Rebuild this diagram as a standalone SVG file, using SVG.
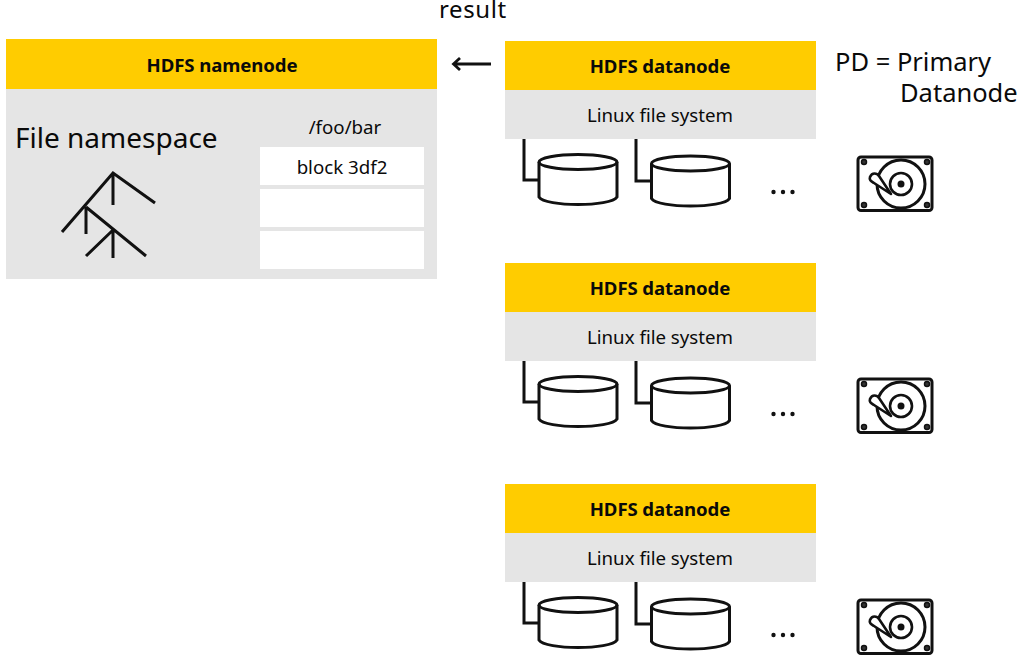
<svg xmlns="http://www.w3.org/2000/svg" width="1024" height="661" viewBox="0 0 1024 661">
<style>
text{font-family:"Noto Sans","Open Sans","Liberation Sans",sans-serif;fill:#0a0a0a}
.y{fill:#fc0}.g{fill:#e5e5e5}.w{fill:#fff}
.t{font-size:18.600px;font-weight:700;text-anchor:middle;letter-spacing:-.1px}
.s{font-size:18.700px;text-anchor:middle}
.big{font-size:28px}
.leg{font-size:25.500px}
.l{fill:none;stroke:#111;stroke-width:3}
.c{fill:none;stroke:#111;stroke-width:3}
</style>
<defs>
<g id="cyl">
<path class="c" d="M539 162V197C545 207 611 207 617 197V162"/>
<ellipse class="c" cx="578" cy="162" rx="39" ry="7.5"/>
</g>
<g id="hdd">
<rect class="c" x="858" y="157" width="74" height="53.500" rx="3"/>
<circle class="c" cx="901" cy="184" r="24"/>
<circle fill="none" stroke="#111" stroke-width="2.600" cx="901" cy="184" r="11"/>
<circle fill="#111" cx="901" cy="184" r="3.500"/>
<path fill="#fff" stroke="#111" stroke-width="2.600" stroke-linejoin="round" d="M870 177C872 172 877 173 879 176L891 194L874 183C871 181 869 180 870 177Z"/>
<g fill="#333" stroke="#111" stroke-width="1.500">
<circle cx="864" cy="162" r="2.500"/><circle cx="927" cy="162" r="2.500"/>
<circle cx="864" cy="205" r="2.500"/><circle cx="927" cy="205" r="2.500"/>
</g>
</g>
<g id="dn">
<rect class="y" x="505" y="41" width="311" height="49"/>
<rect class="g" x="505" y="90" width="311" height="49"/>
<text class="t" x="660" y="73">HDFS datanode</text>
<text class="s" x="660" y="122">Linux file system</text>
<path class="c" d="M524 139V180H539"/>
<path class="c" d="M636 139V181H651"/>
<use href="#cyl"/>
<use href="#cyl" x="112.500" y="1.500"/>
<g fill="#111"><circle cx="773.500" cy="192" r="2.200"/><circle cx="783" cy="192" r="2.200"/><circle cx="792.500" cy="192" r="2.200"/></g>
<use href="#hdd"/>
</g>
</defs>
<text id="result" x="439" y="18" style="font-size:24px;letter-spacing:.6px">result</text>
<g id="namenode">
<rect class="y" x="6" y="39" width="431" height="50"/>
<rect class="g" x="6" y="89" width="431" height="190"/>
<text class="t" x="222" y="72">HDFS namenode</text>
<text class="big" x="15" y="148">File namespace</text>
<text class="s" x="345" y="134">/foo/bar</text>
<rect class="w" x="260" y="147" width="164" height="38"/>
<rect class="w" x="260" y="189" width="164" height="38"/>
<rect class="w" x="260" y="231" width="164" height="38"/>
<text class="s" x="342" y="174">block 3df2</text>
<path class="l" d="M62 232L113 173L155 203M113 173V205M86 207V234M86 207L146 256M113 230L86 256M113 230V258"/>
</g>
<g id="datanode1"><use href="#dn"/></g>
<g id="datanode2"><use href="#dn" y="222"/></g>
<g id="datanode3"><use href="#dn" y="443"/></g>
<g id="connectors">
<path fill="none" stroke="#111" stroke-width="2.800" d="M491 64H454M460 58L453.500 64L460 70"/>
</g>
<g id="legend">
<text class="leg" x="835" y="71">PD = Primary</text>
<text class="leg" x="900" y="102">Datanode</text>
</g>
</svg>
